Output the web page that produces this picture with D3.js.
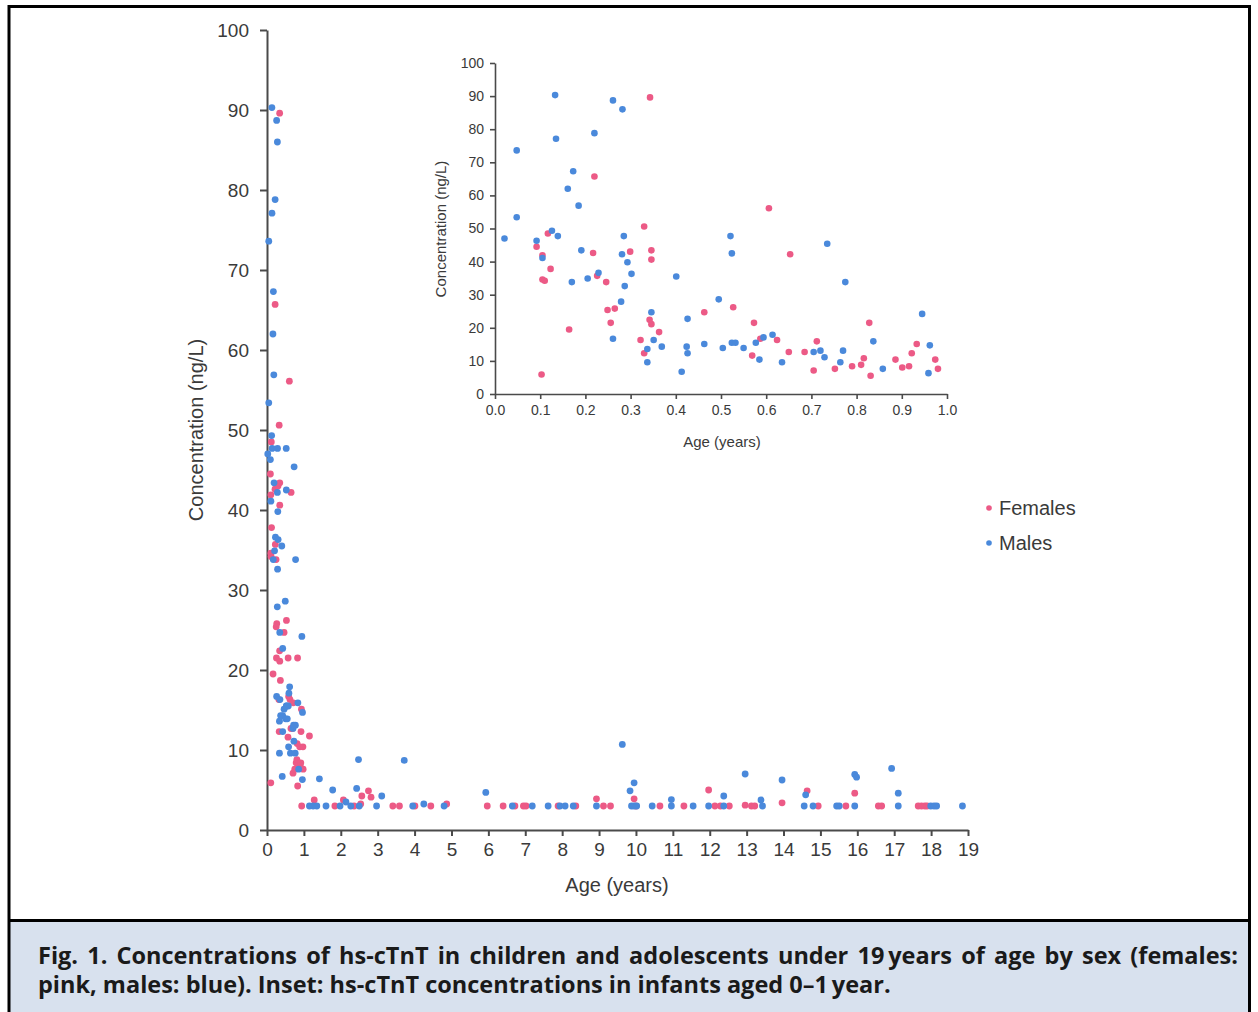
<!DOCTYPE html>
<html><head><meta charset="utf-8">
<script src="https://cdn.jsdelivr.net/npm/d3@7"></script>
<style>
html,body{margin:0;padding:0;background:#fff;}
svg{display:block;}
</style></head>
<body>
<svg id="chart" width="1258" height="1012"></svg>
<script>
// ---- DATA ----
// Infants (0-1 year), [age years, concentration ng/L]
const infantMales = [
[0.021,47.0],[0.048,73.6],[0.048,53.4],[0.092,46.3],[0.105,41.1],[0.126,49.3],[0.133,90.3],[0.135,77.1],
[0.139,47.7],[0.161,62.0],[0.170,33.8],[0.173,67.3],[0.185,56.9],[0.191,43.4],[0.205,34.9],[0.220,78.8],
[0.229,36.6],[0.261,88.7],[0.261,16.7],[0.279,27.9],[0.281,42.2],[0.282,86.0],[0.285,47.7],[0.287,32.6],
[0.293,39.8],[0.302,36.3],[0.337,13.6],[0.337,9.6],[0.346,24.7],[0.351,16.3],[0.369,14.3],[0.401,35.5],
[0.413,6.7],[0.424,14.3],[0.426,12.3],[0.426,22.7],[0.463,15.1],[0.495,28.6],[0.504,13.9],[0.521,47.7],
[0.524,42.5],[0.524,15.5],[0.532,15.5],[0.550,13.9],[0.577,15.5],[0.585,10.4],[0.594,17.1],[0.614,17.9],
[0.635,9.6],[0.705,12.7],[0.720,13.1],[0.729,11.1],[0.735,45.4],[0.764,9.6],[0.770,13.1],[0.775,33.8],
[0.837,15.9],[0.858,7.6],[0.945,24.2],[0.959,6.3],[0.962,14.7]
];
const infantFemales = [
[0.092,44.5],[0.103,5.9],[0.105,41.9],[0.105,34.6],[0.110,34.2],[0.117,48.5],[0.123,37.8],[0.164,19.5],
[0.217,42.6],[0.220,65.7],[0.226,35.7],[0.246,33.8],[0.249,25.4],[0.256,21.5],[0.265,25.8],[0.299,43.0],
[0.322,16.3],[0.330,50.6],[0.330,12.3],[0.342,22.4],[0.343,89.6],[0.346,43.4],[0.346,40.6],[0.346,21.1],
[0.363,18.7],[0.463,24.7],[0.527,26.2],[0.569,11.6],[0.573,21.5],[0.587,16.7],[0.606,56.1],[0.624,16.3],
[0.650,12.7],[0.653,42.2],[0.685,12.7],[0.705,7.1],[0.712,15.9],[0.752,7.6],[0.790,8.4],[0.810,8.8],
[0.816,10.8],[0.828,21.5],[0.831,5.5],[0.886,10.4],[0.901,8.0],[0.916,8.4],[0.922,12.3],[0.933,15.1],
[0.974,10.4],[0.980,7.6]
];
// Children and adolescents (1-19 years)
const olderMales = [
[1.15,3],[1.25,3],[1.35,3],[1.42,6.4],[1.6,3],[1.78,5.0],[1.98,3],[2.14,3.5],[2.27,3],[2.43,5.2],
[2.48,8.8],[2.50,3],[2.97,3],[3.11,4.25],[3.72,8.7],[3.95,3],[4.25,3.25],[4.80,3],[5.93,4.7],[6.65,3],
[7.19,3],[7.62,3],[7.94,3],[8.08,3],[8.30,3],[8.93,3],[9.63,10.7],[9.84,4.9],[9.95,5.9],[9.88,3],
[9.95,3],[10.02,3],[10.44,3],[10.96,3.8],[10.96,3],[11.55,3],[11.97,3],[12.38,4.25],[12.38,3],[12.96,7.0],
[13.39,3.75],[13.43,3],[13.96,6.25],[14.56,3],[14.60,4.4],[14.80,3],[15.44,3],[15.51,3],[15.93,3],[15.93,6.95],
[15.98,6.6],[16.93,7.7],[17.11,4.6],[17.11,3],[17.99,3],[18.08,3],[18.15,3],[18.85,3]
];
const olderFemales = [
[0.94,3],[1.15,11.75],[1.28,3.75],[1.84,3],[2.07,3.75],[2.36,3],[2.54,3.25],[2.57,4.25],[2.75,4.9],[2.82,4.1],
[3.41,3],[3.59,3],[4.01,3],[4.44,3],[4.87,3.25],[5.97,3],[6.40,3],[6.72,3],[6.95,3],[7.02,3],
[7.89,3],[8.37,3],[8.93,3.9],[9.12,3],[9.31,3],[9.95,3.9],[10.0,3],[10.65,3],[11.30,3],[11.97,5.0],
[12.14,3],[12.29,3],[12.53,3],[12.96,3.1],[13.13,3],[13.22,3],[13.96,3.4],[14.64,4.9],[14.94,3],[15.69,3],
[15.93,4.6],[16.57,3],[16.66,3],[17.65,3],[17.74,3],[17.83,3],[17.89,3]
];
const mainXTicks = d3.range(0, 20, 1);
const mainYTicks = d3.range(0, 101, 10);
const insetXTicks = d3.range(0, 11, 1).map(d => d / 10);
const insetYTicks = d3.range(0, 101, 10);
const legendLabels = ["Females", "Males"];
const captionLines = [
  "Fig. 1. Concentrations of hs-cTnT in children and adolescents under 19\u2009years of age by sex (females:",
  "pink, males: blue). Inset: hs-cTnT concentrations in infants aged 0\u20131\u2009year."
];

// ---- STYLE ----
const PINK = "#ec5a86", BLUE = "#4a89db", AXIS = "#4a4a4a", TXT = "#3a3a3a";
const FONT = "'Liberation Sans', Arial, sans-serif";

const svg = d3.select("#chart");

// Frame and caption box
svg.append("rect").attr("x", 0).attr("y", 0).attr("width", 1258).attr("height", 1012).attr("fill", "#fff");
svg.append("rect").attr("x", 9).attr("y", 921).attr("width", 1240).attr("height", 91).attr("fill", "#d8e1ee");
svg.append("rect").attr("x", 9).attr("y", 6.5).attr("width", 1240.5).attr("height", 1010)
  .attr("fill", "none").attr("stroke", "#000").attr("stroke-width", 3);
svg.append("line").attr("x1", 9).attr("x2", 1250).attr("y1", 920.5).attr("y2", 920.5)
  .attr("stroke", "#000").attr("stroke-width", 3);

// Caption (first line justified by word spacing)
const cap = svg.append("g").attr("font-family", "'Open Sans', 'Noto Sans', sans-serif")
  .attr("font-weight", "bold").attr("font-size", 23.5).attr("fill", "#1a1a1a");
const c1 = cap.append("text").attr("x", 38).attr("y", 964).text(captionLines[0]);
cap.append("text").attr("x", 38).attr("y", 993).text(captionLines[1]);
const w1 = c1.node().getComputedTextLength();
const nSpaces = (captionLines[0].match(/ /g) || []).length;
if (w1 < 1200) c1.attr("word-spacing", (1200 - w1) / nSpaces);
else c1.attr("textLength", 1200).attr("lengthAdjust", "spacingAndGlyphs");

function styleAxis(g, fs) {
  g.select(".domain").attr("stroke", AXIS).attr("stroke-width", 2);
  g.selectAll(".tick line").attr("stroke", AXIS).attr("stroke-width", 2);
  g.selectAll(".tick text").attr("fill", TXT).attr("font-size", fs).attr("font-family", FONT);
}

// ---- MAIN PLOT ----
const x = d3.scaleLinear().domain([0, 19]).range([267, 968]);
const y = d3.scaleLinear().domain([0, 100]).range([830, 30]);

const gx = svg.append("g").attr("transform", "translate(0,830)")
  .call(d3.axisBottom(x).tickValues(mainXTicks).tickFormat(d3.format("d")).tickSize(6).tickSizeOuter(0).tickPadding(7));
styleAxis(gx, 19);
const gy = svg.append("g").attr("transform", "translate(267,0)")
  .call(d3.axisLeft(y).tickValues(mainYTicks).tickFormat(d3.format("d")).tickSize(7).tickSizeOuter(0).tickPadding(11));
styleAxis(gy, 19);

svg.append("text").attr("x", 617).attr("y", 892).attr("text-anchor", "middle")
  .attr("font-family", FONT).attr("font-size", 20).attr("fill", TXT).text("Age (years)");
svg.append("text").attr("transform", "translate(203,430) rotate(-90)").attr("text-anchor", "middle")
  .attr("font-family", FONT).attr("font-size", 20).attr("fill", TXT).text("Concentration (ng/L)");

const mainF = infantFemales.concat(olderFemales);
const mainM = infantMales.concat(olderMales);
const gm = svg.append("g");
gm.selectAll(".mf").data(mainF).join("circle").attr("cx", d => x(d[0])).attr("cy", d => y(d[1]))
  .attr("r", 3.4).attr("fill", PINK);
gm.selectAll(".mm").data(mainM).join("circle").attr("cx", d => x(d[0])).attr("cy", d => y(d[1]))
  .attr("r", 3.4).attr("fill", BLUE);

// ---- INSET ----
const xi = d3.scaleLinear().domain([0, 1]).range([495, 947]);
const yi = d3.scaleLinear().domain([0, 100]).range([394, 63]);
const gxi = svg.append("g").attr("transform", "translate(0,394)")
  .call(d3.axisBottom(xi).tickValues(insetXTicks).tickFormat(d3.format(".1f")).tickSize(5).tickSizeOuter(0).tickPadding(6));
styleAxis(gxi, 14);
const gyi = svg.append("g").attr("transform", "translate(495,0)")
  .call(d3.axisLeft(yi).tickValues(insetYTicks).tickFormat(d3.format("d")).tickSize(5).tickSizeOuter(0).tickPadding(6));
styleAxis(gyi, 14);
gxi.selectAll(".domain, .tick line").attr("stroke-width", 1.6);
gyi.selectAll(".domain, .tick line").attr("stroke-width", 1.6);

svg.append("text").attr("x", 722).attr("y", 447).attr("text-anchor", "middle")
  .attr("font-family", FONT).attr("font-size", 15).attr("fill", TXT).text("Age (years)");
svg.append("text").attr("transform", "translate(446,229) rotate(-90)").attr("text-anchor", "middle")
  .attr("font-family", FONT).attr("font-size", 15).attr("fill", TXT).text("Concentration  (ng/L)");

const gi = svg.append("g");
gi.selectAll(".if").data(infantFemales).join("circle").attr("cx", d => xi(d[0])).attr("cy", d => yi(d[1]))
  .attr("r", 3.3).attr("fill", PINK);
gi.selectAll(".im").data(infantMales).join("circle").attr("cx", d => xi(d[0])).attr("cy", d => yi(d[1]))
  .attr("r", 3.3).attr("fill", BLUE);

// ---- LEGEND ----
const leg = svg.append("g");
legendLabels.forEach((lab, i) => {
  const yy = 507 + i * 35;
  leg.append("circle").attr("cx", 989).attr("cy", yy + 1).attr("r", 2.8).attr("fill", i === 0 ? PINK : BLUE);
  leg.append("text").attr("x", 999).attr("y", yy + 8).attr("font-family", FONT).attr("font-size", 20)
    .attr("fill", TXT).text(lab);
});
</script>
</body></html>
